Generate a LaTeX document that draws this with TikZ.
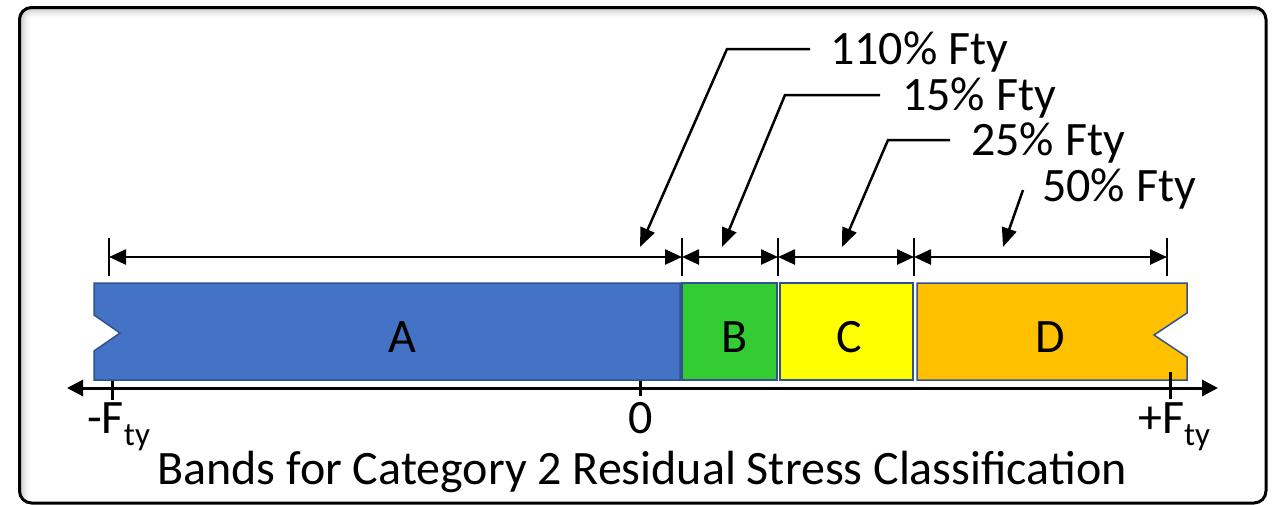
\documentclass[tikz,border=0pt]{standalone}
\usepackage{fontspec}
\setmainfont{Carlito}
\usetikzlibrary{arrows.meta}

\definecolor{bandA}{HTML}{4472C4}
\definecolor{bandB}{HTML}{33CC33}
\definecolor{bandC}{HTML}{FFFF00}
\definecolor{bandD}{HTML}{FFC000}
\definecolor{bandEdge}{HTML}{2F528F}

\begin{document}
\begin{tikzpicture}[x=1pt,y=-1pt,
  band/.style={draw=bandEdge,line width=1.5pt},
  lbl/.style={font=\fontsize{48}{52}\selectfont,inner sep=0pt},
  bigtext/.style={font=\fontsize{48}{52}\selectfont,inner sep=0pt},
  extline/.style={line width=2.5pt},
  dimline/.style={line width=2.5pt,
    {Triangle[length=17pt,width=15pt]}-{Triangle[length=17pt,width=15pt]}},
  leader/.style={line width=2.5pt,-{Triangle[length=19pt,width=15pt]}},
  axisline/.style={line width=3pt,
    {Triangle[length=16pt,width=16pt]}-{Triangle[length=16pt,width=16pt]}},
  tick/.style={line width=3pt}]

\useasboundingbox (0,0) rectangle (1274,504);

% frame with a soft inner shadow along its top and left edges
\begin{scope}
  \clip[rounded corners=12pt] (19.5,7.5) rectangle (1266,503);
  \foreach \i [evaluate=\i as \op using {0.22*(1-\i/12)^2}] in {0,...,11} {
    \draw[line width=1pt, draw=black, opacity=\op] (19,8+\i) -- (1266,8+\i);
    \draw[line width=1pt, draw=black, opacity=\op] (20+\i,7) -- (20+\i,503);
  }
\end{scope}
\draw[line width=3pt, rounded corners=12pt] (19.5,7.5) rectangle (1266,503);

% bands
\fill[bandA, band] (94,283) -- (680,283) -- (680,380) -- (94,380)
  -- (94,351) -- (120,333) -- (94,315) -- cycle;
\fill[bandB, band] (682,283) rectangle (777,380);
\fill[bandC, band] (780,283) rectangle (913,380);
\fill[bandD, band] (917,283) -- (1187,283) -- (1187,313) -- (1154,335)
  -- (1187,357) -- (1187,380) -- (917,380) -- cycle;

\node[lbl, anchor=base] (A) at (402,352) {A};
\node[lbl, anchor=base] (B) at (735,352) {B};
\node[lbl, anchor=base] (C) at (849,352) {C};
\node[lbl, anchor=base] (D) at (1050,352) {D};

% dimension chain above the bands
\foreach \n/\x in {0/109,1/682,2/778,3/914,4/1167} {
  \coordinate (d\n) at (\x,257);
  \draw[extline] (\x,238) -- (\x,276);
}
\draw[dimline] (d0) -- (d1);
\draw[dimline] (d1) -- (d2);
\draw[dimline] (d2) -- (d3);
\draw[dimline] (d3) -- (d4);

% percentage labels and their leaders
\node[lbl, anchor=base west] (p110) at (830,64) {110\% Fty};
\node[lbl, anchor=base west] (p15)  at (902,110) {15\% Fty};
\node[lbl, anchor=base west] (p25)  at (971,155) {25\% Fty};
\node[lbl, anchor=base west] (p50)  at (1042,201) {50\% Fty};

\coordinate (k110) at (810,49);  \coordinate (a110) at (640,247);
\coordinate (k15)  at (880,95);  \coordinate (a15)  at (722,247);
\coordinate (k25)  at (950,140); \coordinate (a25)  at (842,247);
\coordinate (k50)  at (1023,190); \coordinate (a50) at (1003,247);

\draw[leader] (k110) -- (727,49) -- (a110);
\draw[leader] (k15) -- (785,95) -- (a15);
\draw[leader] (k25) -- (888,140) -- (a25);
\draw[leader] (k50) -- (a50);

% stress axis
\coordinate (axL) at (67,388);
\coordinate (axR) at (1218,388);
\draw[axisline] (axL) -- (axR);
\draw[tick] (112,381) -- (112,400);
\draw[tick] (640,381) -- (640,396);
\draw[tick] (1170,372) -- (1170,399);

\node[lbl, anchor=base west] (mF) at (87,433)
  {-F\raisebox{-12pt}{\fontsize{33}{35}\selectfont ty}};
\node[lbl, anchor=base] (zero) at (641,433) {0};
\node[lbl, anchor=base west] (pF) at (1138,433)
  {+F\raisebox{-12pt}{\fontsize{33}{35}\selectfont ty}};

\node[bigtext, anchor=base] (title) at (642,484)
  {Bands for Category 2 Residual Stress Classification};
\end{tikzpicture}
\end{document}
